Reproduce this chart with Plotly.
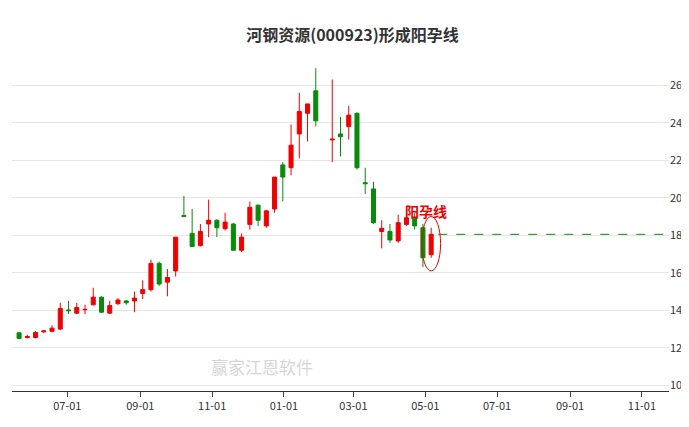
import pandas as pd
import plotly.graph_objects as go

# weekly candles, Chinese convention: red = up, green = down
opens = [12.8, 12.55, 12.55, 12.85, 12.88, 13.0, 14.02, 13.85, 14.03, 14.3,
         14.7, 13.85, 14.35, 14.5, 14.5, 14.9, 15.1, 16.5, 15.5, 16.1,
         19.05, 18.1, 17.45, 18.6, 18.8, 18.35, 18.6, 17.2, 18.58, 19.6,
         18.5, 19.4, 21.75, 21.6, 23.4, 24.5, 25.7, 23.08, 23.4, 23.8,
         24.5, 20.8, 20.47, 18.2, 18.2, 17.7, 18.58, 18.9, 18.4, 16.96]
highs = [12.85, 12.7, 12.9, 12.95, 13.2, 14.4, 14.5, 14.4, 14.3, 15.2,
         14.75, 14.5, 14.65, 14.55, 15.0, 15.6, 16.7, 16.6, 16.2, 17.9,
         20.1, 19.4, 18.6, 19.9, 18.85, 19.2, 18.65, 18.1, 19.8, 19.65,
         19.35, 21.1, 21.9, 23.9, 25.6, 25.0, 26.9, 26.3, 24.3, 24.9,
         24.55, 21.6, 20.85, 18.8, 18.6, 19.1, 19.5, 19.2, 18.6, 18.4]
lows = [12.45, 12.5, 12.5, 12.8, 12.85, 12.95, 13.8, 13.8, 13.8, 14.25,
        13.85, 13.8, 14.3, 14.3, 13.9, 14.6, 15.0, 15.3, 14.75, 15.8,
        19.0, 17.4, 17.4, 17.9, 17.9, 18.25, 17.2, 17.1, 18.3, 18.5,
        18.4, 19.2, 19.8, 21.2, 22.1, 23.0, 23.8, 21.9, 22.2, 23.1,
        21.5, 20.2, 18.6, 17.3, 17.6, 17.6, 18.5, 18.3, 16.3, 16.8]
closes = [12.5, 12.6, 12.82, 12.9, 13.05, 14.1, 13.98, 14.15, 14.05, 14.7,
          13.9, 14.25, 14.55, 14.4, 14.65, 15.1, 16.5, 15.4, 15.75, 17.9,
          19.0, 17.4, 18.2, 18.8, 18.4, 18.7, 17.2, 17.9, 19.49, 18.8,
          19.3, 21.1, 21.1, 22.8, 24.6, 25.0, 24.1, 23.12, 23.25, 24.4,
          21.6, 20.75, 18.67, 18.37, 17.75, 18.67, 18.93, 18.5, 16.8, 18.05]

dates = pd.date_range("2021-05-21", periods=51, freq="7D")
dates = dates[dates != pd.Timestamp("2022-02-04")]

RED = "#f00000"
GREEN = "#0a8a0a"
X_END = "2022-11-24"

fig = go.Figure()
fig.add_trace(go.Candlestick(
    x=dates, open=opens, high=highs, low=lows, close=closes,
    increasing=dict(line=dict(color=RED, width=1), fillcolor=RED),
    decreasing=dict(line=dict(color=GREEN, width=1), fillcolor=GREEN),
    whiskerwidth=0, showlegend=False,
))

last_date = dates[-1]
fig.add_shape(type="line", x0=last_date + pd.Timedelta(days=6), x1=pd.Timestamp(X_END),
              y0=closes[-1], y1=closes[-1], line=dict(color=GREEN, width=1, dash="dash"))
fig.add_shape(type="circle", x0=last_date - pd.Timedelta(days=8), x1=last_date + pd.Timedelta(days=8),
              y0=16.1, y1=19.0, line=dict(color=RED, width=1))
fig.add_annotation(x=last_date - pd.Timedelta(days=4), y=19.3, text="<b>阳孕线</b>",
                   showarrow=False, font=dict(color=RED, size=14))
fig.add_annotation(xref="paper", yref="paper", x=0.3, y=0.03, text="赢家江恩软件",
                   showarrow=False, font=dict(color="rgba(160,160,160,0.45)", size=17))

fig.update_layout(
    width=689, height=427,
    title=dict(text="<b>河钢资源(000923)形成阳孕线</b>", x=0.5, y=0.95,
               font=dict(size=16, color="#333")),
    font=dict(family="Noto Sans CJK SC", size=11, color="#333"),
    paper_bgcolor="white", plot_bgcolor="white",
    margin=dict(l=4, r=28, t=49, b=44),
    xaxis=dict(rangeslider=dict(visible=False), type="date",
               range=["2021-05-15", X_END], tickformat="%m-%d",
               dtick="M2", tick0="2021-07-01", showgrid=False,
               showline=True, linecolor="#333", ticks="outside", ticklen=5),
    yaxis=dict(side="right", range=[9.7, 27.5], dtick=2, tick0=10,
               showgrid=True, gridcolor="#e6e6e6", zeroline=False),
)

fig.write_html("out.html")
